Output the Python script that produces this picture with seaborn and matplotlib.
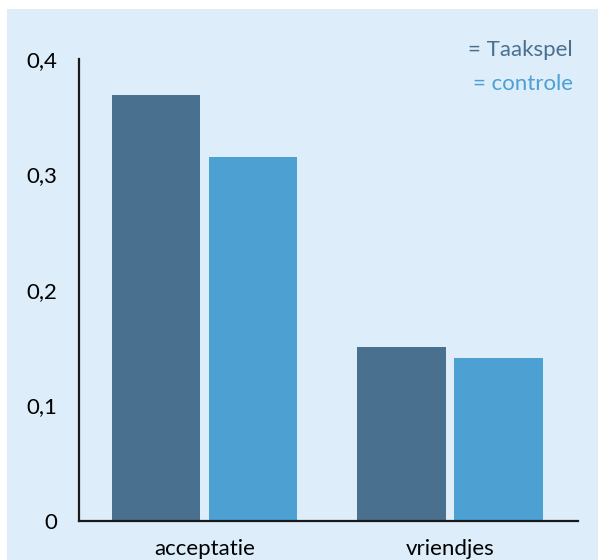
import pandas as pd
import seaborn as sns
import matplotlib.pyplot as plt
from matplotlib.patches import Rectangle
from matplotlib.ticker import FuncFormatter

# values
categories = ['acceptatie', 'vriendjes']
groups = ['Taakspel', 'controle']
taakspel = [0.369, 0.151]
controle = [0.315, 0.141]
yticks = [0, 0.1, 0.2, 0.3, 0.4]

df = pd.DataFrame({
    'categorie': categories * 2,
    'groep': [groups[0]] * 2 + [groups[1]] * 2,
    'waarde': taakspel + controle,
})

bg = '#ddedf9'
dark = '#4a7090'
light = '#4ca0d2'

sns.set_style('white')
plt.rcParams['font.family'] = ['Lato', 'DejaVu Sans']

fig = plt.figure(figsize=(5.98, 5.6), dpi=100)
fig.patch.set_facecolor('white')
# light blue panel, leaving a thin white strip at top and left
fig.patches.append(Rectangle((7 / 598, 0), 1, (560 - 9) / 560,
                             transform=fig.transFigure, facecolor=bg,
                             edgecolor='none', zorder=-10))

ax = fig.add_axes([79 / 598, 39 / 560, (578 - 79) / 598, (521 - 59) / 560])
ax.set_facecolor('none')

sns.barplot(data=df, x='categorie', y='waarde', hue='groep',
            palette=[dark, light], width=0.79, gap=0.09,
            saturation=1, legend=False, linewidth=0, edgecolor='none', ax=ax)

ax.set_xlim(-0.511, 1.521)
ax.set_ylim(0, 0.4)
ax.set_yticks(yticks)
ax.yaxis.set_major_formatter(FuncFormatter(lambda v, p: f'{v:g}'.replace('.', ',')))
ax.set_xlabel('')
ax.set_ylabel('')
ax.tick_params(axis='both', length=0, labelsize=16, colors='black')
ax.tick_params(axis='y', pad=16)
ax.tick_params(axis='x', pad=13)

for side in ['top', 'right']:
    ax.spines[side].set_visible(False)
for side in ['left', 'bottom']:
    ax.spines[side].set_color('#1a1a1a')
    ax.spines[side].set_linewidth(1.6)

# legend drawn as coloured text, like the reference
fig.text(573 / 598, 1 - 50 / 560, '= Taakspel', color=dark, fontsize=16,
         ha='right', va='center')
fig.text(573 / 598, 1 - 84 / 560, '= controle', color=light, fontsize=16,
         ha='right', va='center')

fig.savefig('out.png', dpi=100)
